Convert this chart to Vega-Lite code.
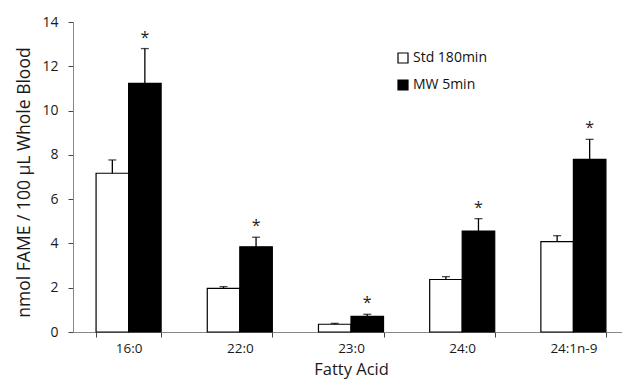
{
  "$schema": "https://vega.github.io/schema/vega-lite/v6.json",
  "autosize": "none",
  "padding": {"left": 73, "top": 22, "right": 0, "bottom": 54},
  "width": 556,
  "height": 310,
  "background": "white",
  "config": {
    "view": {"stroke": null},
    "font": "Open Sans",
    "axis": {"labelColor": "#1a1a1a", "titleColor": "#1a1a1a", "domainColor": "#888", "tickColor": "#444", "grid": false, "labelFont": "Open Sans", "titleFont": "Open Sans", "titleFontWeight": "normal"}
  },
  "data": {
    "values": [
      {"acid": "16:0", "group": "Std 180min", "value": 7.17, "err": 7.77, "sig": ""},
      {"acid": "16:0", "group": "MW 5min", "value": 11.23, "err": 12.8, "sig": "*"},
      {"acid": "22:0", "group": "Std 180min", "value": 1.97, "err": 2.05, "sig": ""},
      {"acid": "22:0", "group": "MW 5min", "value": 3.85, "err": 4.28, "sig": "*"},
      {"acid": "23:0", "group": "Std 180min", "value": 0.35, "err": 0.39, "sig": ""},
      {"acid": "23:0", "group": "MW 5min", "value": 0.71, "err": 0.8, "sig": "*"},
      {"acid": "24:0", "group": "Std 180min", "value": 2.37, "err": 2.5, "sig": ""},
      {"acid": "24:0", "group": "MW 5min", "value": 4.56, "err": 5.12, "sig": "*"},
      {"acid": "24:1n-9", "group": "Std 180min", "value": 4.08, "err": 4.35, "sig": ""},
      {"acid": "24:1n-9", "group": "MW 5min", "value": 7.8, "err": 8.7, "sig": "*"}
    ]
  },
  "encoding": {
    "x": {
      "field": "acid", "type": "nominal", "sort": null,
      "scale": {"paddingInner": 0.415, "paddingOuter": 0.2075},
      "axis": {"title": "Fatty Acid", "labelAngle": 0, "tickBand": "extent", "labelFontSize": 13.5, "titleFontSize": 16.5, "tickSize": 5, "labelPadding": 4, "titlePadding": 7}
    },
    "xOffset": {"field": "group", "type": "nominal", "sort": ["Std 180min", "MW 5min"], "scale": {"paddingInner": 0, "paddingOuter": 0}}
  },
  "layer": [
    {
      "mark": {"type": "bar", "stroke": "black", "strokeWidth": 1.2},
      "encoding": {
        "y": {
          "field": "value", "type": "quantitative",
          "scale": {"domain": [0, 14], "nice": false},
          "axis": {"title": "nmol FAME / 100 µL Whole Blood", "values": [0, 2, 4, 6, 8, 10, 12, 14], "labelFontSize": 14, "titleFontSize": 17.5, "tickSize": 5, "labelPadding": 10, "titlePadding": 8, "titleY": 160}
        },
        "fill": {
          "field": "group", "type": "nominal",
          "scale": {"domain": ["Std 180min", "MW 5min"], "range": ["white", "black"]},
          "legend": {"title": null, "orient": "none", "legendX": 323, "legendY": 29, "symbolType": "square", "symbolSize": 100, "symbolStrokeColor": "black", "symbolStrokeWidth": 1.2, "labelFontSize": 14, "labelColor": "#111", "labelFont": "Open Sans", "rowPadding": 11, "labelOffset": 3}
        }
      }
    },
    {
      "mark": {"type": "rule", "color": "black", "strokeWidth": 1.3},
      "encoding": {
        "y": {"field": "value", "type": "quantitative"},
        "y2": {"field": "err"}
      }
    },
    {
      "mark": {"type": "tick", "color": "black", "thickness": 1.3, "size": 8},
      "encoding": {
        "y": {"field": "err", "type": "quantitative"}
      }
    },
    {
      "mark": {"type": "text", "fontSize": 16, "color": "#222", "baseline": "alphabetic", "dy": -6},
      "encoding": {
        "y": {"field": "err", "type": "quantitative"},
        "text": {"field": "sig"}
      }
    }
  ]
}
